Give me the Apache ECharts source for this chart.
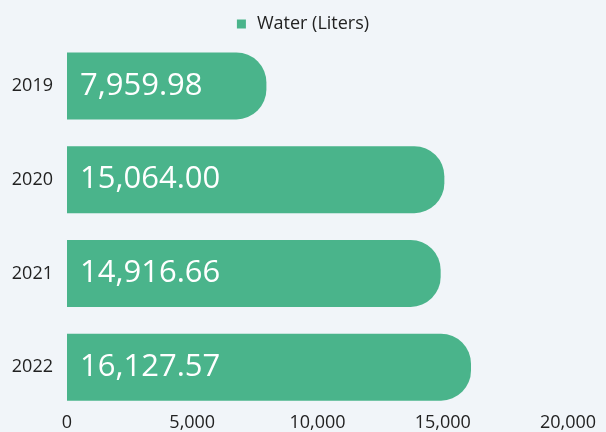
<!DOCTYPE html>
<html>
<head>
<meta charset="utf-8">
<script src="https://cdn.jsdelivr.net/npm/echarts@6/dist/echarts.min.js"></script>
<style>
  html, body { margin: 0; padding: 0; background: #f1f5f9; }
  #chart { width: 606px; height: 432px; }
</style>
</head>
<body>
<div id="chart"></div>
<script>
// Annual water usage
const years = ['2019', '2020', '2021', '2022'];
const waterLiters = [7959.98, 15064.00, 14916.66, 16127.57];
const seriesName = 'Water (Liters)';
const xTicks = { min: 0, max: 20000, interval: 5000 };

const fmt = v => v.toLocaleString('en-US', { minimumFractionDigits: 2, maximumFractionDigits: 2 });
const fmtTick = v => v.toLocaleString('en-US');

const chart = echarts.init(document.getElementById('chart'), null, { renderer: 'canvas' });
chart.setOption({
  backgroundColor: '#f1f5f9',
  textStyle: { fontFamily: 'Open Sans' },
  animation: false,
  legend: {
    top: 10,
    left: 'center',
    itemWidth: 9,
    itemHeight: 9,
    icon: 'rect',
    textStyle: { fontSize: 18, color: '#222', fontFamily: 'Open Sans', padding: [0, 0, 0, 6] },
    data: [seriesName]
  },
  grid: { left: 67, right: 38, top: 39, bottom: 17, containLabel: false },
  xAxis: {
    type: 'value',
    min: xTicks.min,
    max: xTicks.max,
    interval: xTicks.interval,
    axisLine: { show: false },
    axisTick: { show: false },
    splitLine: { show: false },
    axisLabel: { fontSize: 18, color: '#222', margin: 0, formatter: fmtTick }
  },
  yAxis: {
    type: 'category',
    data: years,
    inverse: true,
    axisLine: { show: false },
    axisTick: { show: false },
    axisLabel: { fontSize: 18, color: '#222', margin: 14 }
  },
  series: [{
    name: seriesName,
    type: 'bar',
    data: waterLiters,
    barWidth: 67,
    itemStyle: { color: '#4ab48b', borderRadius: [0, 30, 30, 0] },
    label: {
      show: true,
      position: 'insideLeft',
      distance: 13,
      color: '#fff',
      fontSize: 31,
      fontFamily: 'Open Sans',
      formatter: p => fmt(p.value)
    }
  }]
});
</script>
</body>
</html>
